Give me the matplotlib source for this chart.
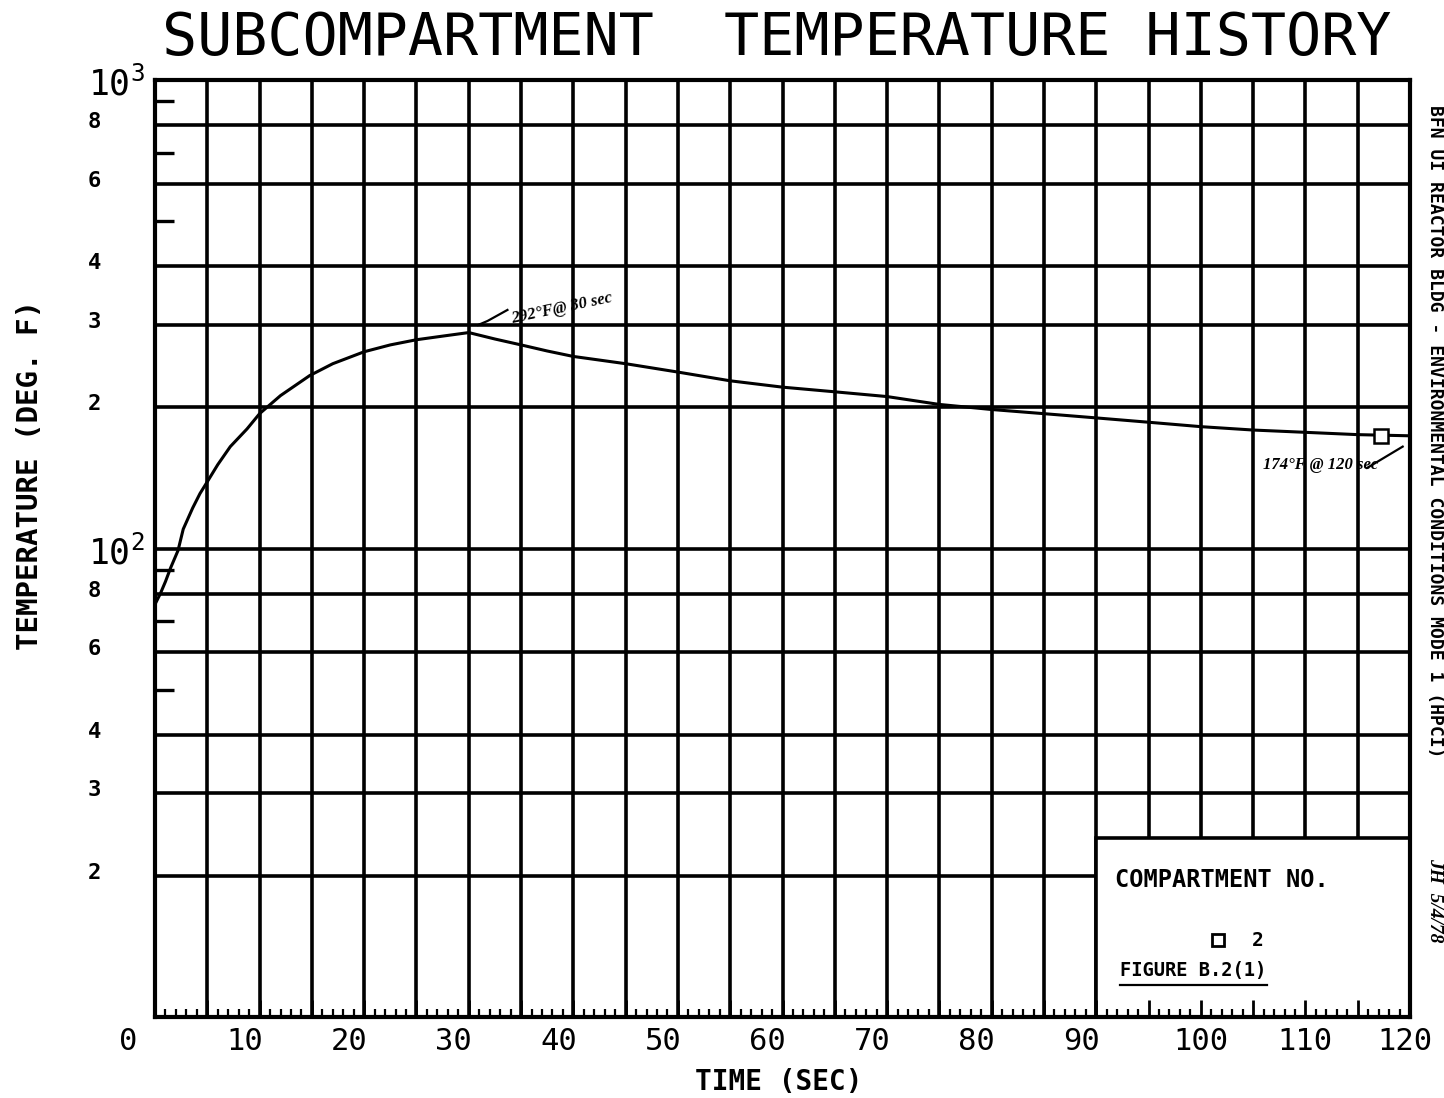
import numpy as np
import matplotlib
matplotlib.use('Agg')
import matplotlib.pyplot as plt
from matplotlib.patches import Rectangle
from matplotlib import transforms

plt.rcParams['font.family'] = ['DejaVu Sans Mono', 'DejaVu Sans']
plt.rcParams['mathtext.fontset'] = 'custom'
plt.rcParams['mathtext.rm'] = 'DejaVu Sans Mono'

# data (compartment 2)
time_s = [0, 0.5, 1, 1.5, 2.2, 2.7, 3.6, 4.3, 5.1, 6, 7.2, 8.8, 10, 12, 14.8, 17, 20,
          22.5, 25, 27.5, 30, 32.5, 35, 37.5, 40, 45, 50, 55, 60, 65, 70, 75, 80, 85,
          90, 95, 100, 105, 110, 115, 120]
temp_f = [76, 80, 85, 91, 99, 110, 122, 131, 140, 151, 165, 180, 194, 212, 234, 248,
          263, 272, 279, 284, 289, 280, 272, 264, 257, 248, 238, 228, 221, 216, 211,
          203, 198, 194, 190, 186, 182, 179, 177, 175, 174]
marker_t = [117.2]
marker_T = [174]

x_grid = list(range(5, 120, 5))
x_labels = list(range(0, 121, 10))
y_grid = [20, 30, 40, 60, 80, 100, 200, 300, 400, 600, 800]
y_stubs = [50, 70, 90, 500, 700, 900]
y_label_vals = [1000, 800, 600, 400, 300, 200, 100, 80, 60, 40, 30, 20]
y_label_txt = [r'$10^3$', '8', '6', '4', '3', '2', r'$10^2$', '8', '6', '4', '3', '2']

fig = plt.figure(figsize=(14.44, 10.98), dpi=100)
ax = fig.add_axes([155 / 1444, 1 - 1017 / 1098, 1255 / 1444, 937 / 1098])
ax.set_yscale('log')
ax.set_xlim(0, 120)
ax.set_ylim(10, 1000)

for t in x_grid:
    ax.axvline(t, color='black', lw=2.6, zorder=1)
for v in y_grid:
    ax.axhline(v, color='black', lw=2.6, zorder=1)

ax.plot(time_s, temp_f, color='black', lw=2.2, zorder=3)
ax.plot(marker_t, marker_T, marker='s', ms=10, mfc='white', mec='black', mew=1.8,
        ls='none', zorder=4)

# legend box
ax.add_patch(Rectangle((90, 10), 30, 14.1, facecolor='white', edgecolor='black',
                       lw=2.6, zorder=2))
ax.text(0.765, 0.146, 'COMPARTMENT NO.', transform=ax.transAxes, fontsize=17,
        fontweight='bold', ha='left', va='center', zorder=5)
ax.plot([0.847], [0.082], marker='s', ms=9, mfc='white', mec='black', mew=2,
        transform=ax.transAxes, zorder=5)
ax.text(0.879, 0.082, '2', transform=ax.transAxes, fontsize=14, fontweight='bold',
        ha='center', va='center', zorder=5)
ax.text(0.769, 0.050, 'FIGURE B.2(1)', transform=ax.transAxes, fontsize=13.5,
        fontweight='bold', ha='left', va='center', zorder=5)
ax.plot([0.769, 0.886], [0.034, 0.034], color='black', lw=1.6,
        transform=ax.transAxes, zorder=5)

# ticks
ax.set_xticks(x_grid)
ax.set_xticks(np.arange(0, 121, 1), minor=True)
ax.set_yticks(y_stubs)
ax.set_yticks([], minor=True)
ax.tick_params(axis='x', which='major', direction='in', length=12, width=2,
               bottom=True, top=False, labelbottom=False)
ax.tick_params(axis='x', which='minor', direction='in', length=6, width=1.6,
               bottom=True, top=False)
ax.tick_params(axis='y', which='major', direction='in', length=14, width=2.4,
               left=True, right=False, labelleft=False)
ax.xaxis.set_zorder(6)
ax.yaxis.set_zorder(6)
for s in ax.spines.values():
    s.set_linewidth(3)
    s.set_zorder(7)

# x tick labels
xtrans = transforms.blended_transform_factory(ax.transData, ax.transAxes)
for v in x_labels:
    if v == 0:
        dx = -27
    elif v < 100:
        dx = -15
    elif v == 120:
        dx = -5
    else:
        dx = 0
    off = transforms.ScaledTranslation(dx / 100, -25 / 100, fig.dpi_scale_trans)
    ax.text(v, 0, str(v), transform=xtrans + off, fontsize=22, ha='center',
            va='center', clip_on=False)

# y tick labels
ytrans = transforms.blended_transform_factory(ax.transAxes, ax.transData)
for v, lab in zip(y_label_vals, y_label_txt):
    if lab.startswith('$'):
        off = transforms.ScaledTranslation(0, -16 / 100, fig.dpi_scale_trans)
        ax.text(-0.0534, v, lab, transform=ytrans + off, fontsize=25, ha='left',
                va='baseline', clip_on=False)
    else:
        off = transforms.ScaledTranslation(0, 3 / 100, fig.dpi_scale_trans)
        ax.text(-0.0534, v, lab, transform=ytrans + off, fontsize=16,
                fontweight='bold', ha='left', va='center', clip_on=False)

# hand-written notes
hand = dict(family=['Liberation Serif', 'DejaVu Serif'], style='italic',
            fontweight='bold', color='black')
ax.plot([30.9, 31.8, 33.7], [300, 306, 323], color='black', lw=1.6, zorder=5)
ax.text(33.9, 326, '292°F@ 30 sec', fontsize=12, rotation=12, ha='left',
        va='center', zorder=5, **hand)
ax.plot([115.9, 119.3], [148.6, 165], color='black', lw=1.6, zorder=5)
ax.text(105.9, 150.5, '174°F @ 120 sec', fontsize=12, ha='left', va='center',
        zorder=5, **hand)

fig.text(0.538, 1 - 55 / 1098, 'SUBCOMPARTMENT  TEMPERATURE HISTORY', fontsize=42,
         ha='center', va='baseline')
fig.text(0.539, 0.0146, 'TIME (SEC)', fontsize=20, fontweight='bold',
         ha='center', va='center')
fig.text(0.0208, 0.567, 'TEMPERATURE (DEG. F)', fontsize=21, fontweight='bold',
         rotation=90, ha='center', va='center')
fig.text(0.9935, 0.607, 'BFN UI REACTOR BLDG - ENVIRONMENTAL CONDITIONS MODE 1 (HPCI)',
         fontsize=13, fontweight='bold', rotation=-90, ha='center', va='center')
fig.text(0.9935, 0.18, 'JH  5/4/78', fontsize=14, rotation=-90, ha='center',
         va='center', **hand)

fig.savefig('out.png', dpi=100)
